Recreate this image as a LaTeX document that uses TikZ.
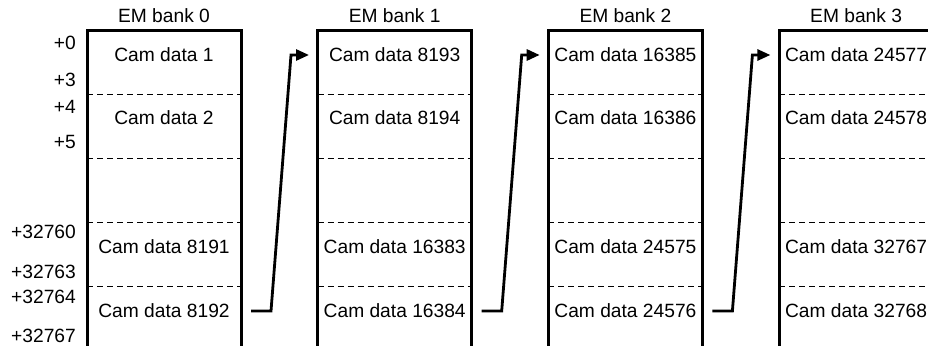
\documentclass[tikz,border=0pt]{standalone}
\usepackage{fontspec}
\setmainfont{Liberation Sans}
\usetikzlibrary{arrows.meta}
\begin{document}
\begin{tikzpicture}[x=1pt,y=-1pt,
  every node/.style={font=\fontsize{19.2}{23}\selectfont, inner sep=0pt},
  bankwall/.style={line width=3pt},
  rowsep/.style={line width=1pt, dash pattern=on 6pt off 4pt},
  link/.style={line width=2.8pt, -{Triangle[length=13pt,width=11pt]}},
  celltext/.style={anchor=base},
  offset/.style={anchor=base east}]
\useasboundingbox (0,0) rectangle (928,345);
\clip (0,0) rectangle (928,345);

% memory banks: open-bottomed boxes with dashed row separators
\foreach \b/\xl/\ca/\cb/\cc/\cd in {0/87/1/2/8191/8192,
    1/317.7/8193/8194/16383/16384,
    2/548.4/16385/16386/24575/24576,
    3/779.1/24577/24578/32767/32768} {
  \draw[bankwall] (\xl,360) -- (\xl,31) -- (\xl+154,31) -- (\xl+154,360);
  \foreach \yy in {94,158,222,286}
    \draw[rowsep] (\xl,\yy) -- (\xl+154,\yy);
  \node[celltext] (title\b) at (\xl+77,23) {EM bank \b};
  \node[celltext] (cell\b-1) at (\xl+77,61) {Cam data \ca};
  \node[celltext] (cell\b-2) at (\xl+77,124) {Cam data \cb};
  \node[celltext] (cell\b-4) at (\xl+77,253) {Cam data \cc};
  \node[celltext] (cell\b-5) at (\xl+77,317) {Cam data \cd};
}

% word offsets along the first bank
\node[offset] (off0) at (76,49) {+0};
\node[offset] (off3) at (76,86) {+3};
\node[offset] (off4) at (76,113) {+4};
\node[offset] (off5) at (76,148) {+5};
\node[offset] (off32760) at (76,238) {+32760};
\node[offset] (off32763) at (76,278) {+32763};
\node[offset] (off32764) at (76,303) {+32764};
\node[offset] (off32767) at (76,342) {+32767};

% continuation links from the end of one bank to the start of the next
\foreach \b/\xr in {0/241, 1/471.7, 2/702.4} {
  \coordinate (src\b) at (\xr+10,311);
  \coordinate (dst\b) at (\xr+68,55);
  \draw[link] (src\b) -- ++(20,0) -- ++(20,-256) -- (dst\b);
}
\end{tikzpicture}
\end{document}
